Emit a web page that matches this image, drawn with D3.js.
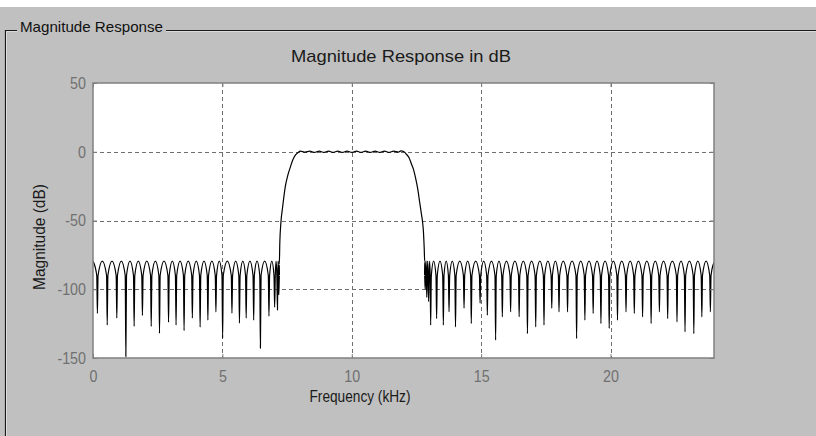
<!DOCTYPE html>
<html>
<head>
<meta charset="utf-8">
<script src="https://cdn.jsdelivr.net/npm/d3@7"></script>
<style>
  html, body { margin: 0; padding: 0; background: #c0c0c0; }
  svg { display: block; }
  text { font-family: "Liberation Sans", Arial, sans-serif; }
</style>
</head>
<body>
<svg id="chart" width="816" height="436"></svg>
<script>
// ---------------- data ----------------
const panelTitle = "Magnitude Response";
const chartTitle = "Magnitude Response in dB";
const xLabel = "Frequency (kHz)";
const yLabel = "Magnitude (dB)";

const xDomain = [0, 24];          // kHz
const yDomain = [-150, 50];       // dB
const xTicks = [0, 5, 10, 15, 20];
const yTicks = [50, 0, -50, -100, -150];

// stopband lobe levels
const lobePeakDb = -79.5;
const lobeShoulderDb = -90;

// lower stopband: null positions (kHz) and null depths (dB)
const lowNullFreq = [0.17, 0.55, 0.92, 1.27, 1.59, 1.91, 2.25, 2.57, 2.92, 3.21, 3.52, 3.84,
  4.14, 4.44, 4.75, 5.01, 5.37, 5.66, 5.92, 6.21, 6.47, 6.80, 7.02, 7.13, 7.18];
const lowNullDb = [-117.6, -126, -121, -149, -127, -119, -127, -132, -124, -126, -130, -121,
  -127.6, -122.5, -116.4, -135.6, -117.4, -124.7, -121, -122.5, -142.9, -119.6, -113, -115, -104];

// transition bands and passband (kHz, dB)
const lowTransFreq = [7.20, 7.22, 7.26, 7.33, 7.43, 7.53, 7.63, 7.72, 7.82, 7.92];
const lowTransDb   = [-82, -66, -52, -40, -25.5, -17, -11, -6, -2.4, -0.6];

const passFreq = [8.01, 8.20, 8.38, 8.56, 8.74, 8.92, 9.10, 9.28, 9.46, 9.64, 9.82, 10.00,
  10.18, 10.36, 10.54, 10.72, 10.90, 11.08, 11.26, 11.44, 11.62, 11.80, 11.90];
const passDb = [0.5, -0.3, 0.4, -0.4, 0.4, -0.4, 0.4, -0.4, 0.4, -0.4, 0.4, -0.4,
  0.4, -0.4, 0.4, -0.4, 0.4, -0.4, 0.4, -0.4, 0.4, -0.3, 0.6];

const highTransFreq = [12.02, 12.12, 12.22, 12.30, 12.38, 12.47, 12.55, 12.62, 12.69, 12.73, 12.77, 12.80, 12.82];
const highTransDb   = [0, -2, -4.5, -8.5, -12.5, -19.4, -27, -36, -45, -50, -58, -70, -80];

// upper stopband
const highNullFreq = [12.84, 12.90, 12.97, 13.05, 13.28, 13.54, 13.76, 14.01, 14.34, 14.62, 14.96,
  15.24, 15.56, 15.82, 16.14, 16.47, 16.79, 17.11, 17.43, 17.73, 18.01, 18.34, 18.69, 19.01,
  19.33, 19.63, 19.95, 20.27, 20.60, 20.92, 21.24, 21.57, 21.89, 22.21, 22.57, 22.88, 23.22,
  23.53, 23.86];
const highNullDb = [-100, -106, -109, -126.1, -121.3, -126.1, -116.4, -127.4, -113.8, -124.9, -110.1,
  -118.9, -137, -120.1, -116.4, -120, -132.2, -127.4, -126.1, -113.8, -116.4, -116.4, -135.8, -122.5,
  -117.6, -124.9, -128.5, -122.5, -116.4, -117.6, -120.1, -124.9, -116.4, -121.3, -123.7, -131, -132.2,
  -120.1, -116.4];

// ---------------- layout ----------------
const W = 816, H = 436;
const plot = { left: 93, right: 714, top: 83, bottom: 358 };

const svg = d3.select("#chart");

// window background
svg.append("rect").attr("x", 0).attr("y", 0).attr("width", W).attr("height", H).attr("fill", "#c0c0c0");
svg.append("rect").attr("x", 0).attr("y", 0).attr("width", W).attr("height", 7).attr("fill", "#ffffff");

// group box frame
const frame = svg.append("g");
frame.append("path").attr("d", `M5.5,436 V30.5 H17`).attr("fill", "none").attr("stroke", "#1a1a1a").attr("stroke-width", 1.2);
frame.append("path").attr("d", `M166,30.5 H816`).attr("fill", "none").attr("stroke", "#1a1a1a").attr("stroke-width", 1.2);
frame.append("path").attr("d", `M6.5,436 V31.5 H17 M166,31.5 H816`).attr("fill", "none").attr("stroke", "#dcdcdc").attr("stroke-width", 1);
const pt = svg.append("text").attr("x", 20).attr("y", 32).attr("font-size", 15).attr("fill", "#111").text(panelTitle);

// scales
const x = d3.scaleLinear().domain(xDomain).range([plot.left, plot.right]);
const y = d3.scaleLinear().domain(yDomain).range([plot.bottom, plot.top]);

// plot area
svg.append("rect").attr("x", plot.left).attr("y", plot.top)
  .attr("width", plot.right - plot.left).attr("height", plot.bottom - plot.top).attr("fill", "#ffffff");

// grid
const grid = svg.append("g").attr("stroke", "#6e6e6e").attr("stroke-width", 1).attr("stroke-dasharray", "4,3");
grid.selectAll("line.gx").data(xTicks.filter(d => d > xDomain[0] && d < xDomain[1])).join("line")
  .attr("x1", d => Math.round(x(d)) + 0.5).attr("x2", d => Math.round(x(d)) + 0.5)
  .attr("y1", plot.top).attr("y2", plot.bottom);
grid.selectAll("line.gy").data(yTicks.filter(d => d > yDomain[0] && d < yDomain[1])).join("line")
  .attr("y1", d => Math.round(y(d)) + 0.5).attr("y2", d => Math.round(y(d)) + 0.5)
  .attr("x1", plot.left).attr("x2", plot.right);

// curve points
function stopband(nf, nd, startF, endF) {
  const pts = [];
  if (startF !== null) pts.push([startF, lobePeakDb]);
  for (let i = 0; i < nf.length; i++) {
    const prevGap = i > 0 ? nf[i] - nf[i - 1] : (startF !== null ? nf[i] - startF : 1);
    const nextGap = i < nf.length - 1 ? nf[i + 1] - nf[i] : (endF !== null ? endF - nf[i] : 1);
    if (i > 0) pts.push([(nf[i - 1] + nf[i]) / 2, lobePeakDb]);
    const wl = Math.min(0.025, prevGap / 4), wr = Math.min(0.025, nextGap / 4);
    pts.push([nf[i] - wl, lobeShoulderDb]);
    pts.push([nf[i], nd[i]]);
    pts.push([nf[i] + wr, lobeShoulderDb]);
  }
  if (endF !== null) pts.push([endF, lobePeakDb - 1]);
  return pts;
}
const zip = (a, b) => a.map((v, i) => [v, b[i]]);
const curve = [].concat(
  stopband(lowNullFreq, lowNullDb, 0, null),
  zip(lowTransFreq, lowTransDb),
  zip(passFreq, passDb),
  zip(highTransFreq, highTransDb),
  stopband(highNullFreq, highNullDb, null, 24)
);

svg.append("clipPath").attr("id", "clip").append("rect")
  .attr("x", plot.left).attr("y", plot.top)
  .attr("width", plot.right - plot.left).attr("height", plot.bottom - plot.top);

const line = d3.line().x(d => x(d[0])).y(d => y(d[1])).curve(d3.curveMonotoneX);
svg.append("path").datum(curve).attr("clip-path", "url(#clip)")
  .attr("fill", "none").attr("stroke", "#000").attr("stroke-width", 1.2).attr("d", line);

// axes
const axisColor = "#808080";
const plainFormat = d => String(d);   // ASCII hyphen-minus like the original
function styleAxis(g) {
  g.select(".domain").remove();
  g.selectAll(".tick line").attr("stroke", axisColor);
  g.selectAll(".tick text").attr("fill", "#707070").attr("font-size", 17)
    .attr("font-family", "'Liberation Sans', Arial, sans-serif");
}
svg.append("g").attr("transform", `translate(0,${plot.bottom})`)
  .call(d3.axisBottom(x).tickValues(xTicks).tickFormat(plainFormat).tickSizeInner(-4).tickSizeOuter(0).tickPadding(12))
  .call(styleAxis);
svg.append("g").attr("transform", `translate(${plot.left},0)`)
  .call(d3.axisLeft(y).tickValues(yTicks).tickFormat(plainFormat).tickSizeInner(-4).tickSizeOuter(0).tickPadding(7))
  .call(styleAxis);
svg.append("g").attr("transform", `translate(0,${plot.top})`)
  .call(d3.axisTop(x).tickValues(xTicks).tickSizeInner(-4).tickSizeOuter(0).tickFormat(""))
  .call(styleAxis);
svg.append("g").attr("transform", `translate(${plot.right},0)`)
  .call(d3.axisRight(y).tickValues(yTicks).tickSizeInner(-4).tickSizeOuter(0).tickFormat(""))
  .call(styleAxis);

// compress tick label glyphs horizontally
svg.selectAll(".tick text").each(function () {
  const len = this.getComputedTextLength();
  if (len > 0) d3.select(this).attr("textLength", len * 0.84).attr("lengthAdjust", "spacingAndGlyphs");
});

// plot frame
svg.append("rect").attr("x", plot.left).attr("y", plot.top)
  .attr("width", plot.right - plot.left).attr("height", plot.bottom - plot.top)
  .attr("fill", "none").attr("stroke", axisColor).attr("stroke-width", 1.5);

// titles
svg.append("text").attr("x", 401).attr("y", 62).attr("text-anchor", "middle")
  .attr("font-size", 17).attr("fill", "#1a1a1a")
  .attr("textLength", 220).attr("lengthAdjust", "spacingAndGlyphs").text(chartTitle);
svg.append("text").attr("x", 360).attr("y", 402).attr("text-anchor", "middle")
  .attr("font-size", 16).attr("fill", "#1a1a1a")
  .attr("textLength", 101).attr("lengthAdjust", "spacingAndGlyphs").text(xLabel);
svg.append("text").attr("transform", "translate(45,237) rotate(-90)").attr("text-anchor", "middle")
  .attr("font-size", 16).attr("fill", "#1a1a1a")
  .attr("textLength", 106).attr("lengthAdjust", "spacingAndGlyphs").text(yLabel);
pt.attr("textLength", 143).attr("lengthAdjust", "spacingAndGlyphs");
</script>
</body>
</html>
